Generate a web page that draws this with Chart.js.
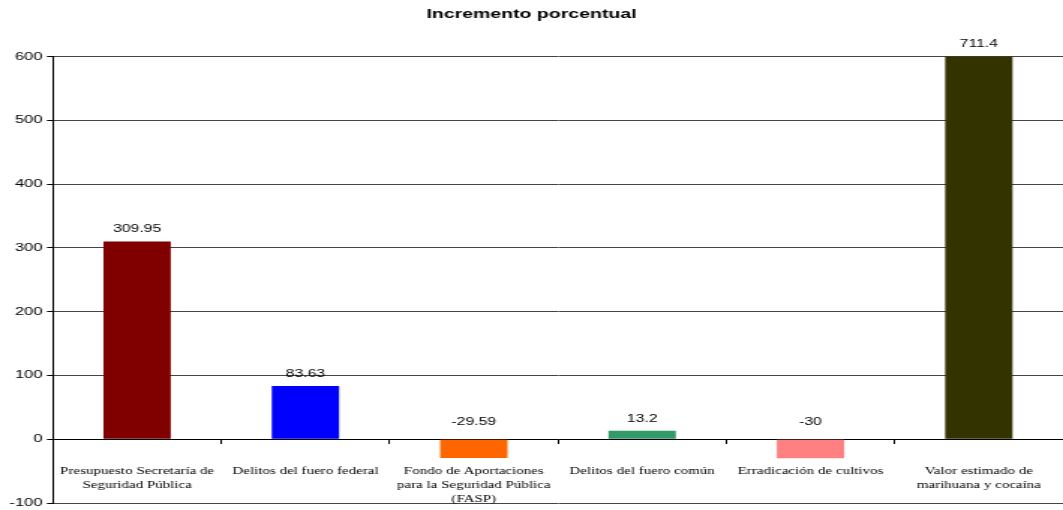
<!DOCTYPE html>
<html>
<head>
<meta charset="utf-8">
<script src="https://cdn.jsdelivr.net/npm/chart.js@4/dist/chart.umd.min.js"></script>
<style>
  html, body { margin: 0; padding: 0; background: #fff; overflow: hidden; }
  /* the chart is laid out narrow and widened horizontally */
  #wrap { width: 709px; height: 510px; transform: scaleX(1.4993); transform-origin: 0 0; }
</style>
</head>
<body>
<div id="wrap"><canvas id="bars"></canvas></div>
<script>
// categorias y valores del incremento porcentual
var categorias = [
    ["Presupuesto Secretaría de", "Seguridad Pública"],
    "Delitos del fuero federal",
    ["Fondo de Aportaciones", "para la Seguridad Pública", "(FASP)"],
    "Delitos del fuero común",
    "Erradicación de cultivos",
    ["Valor estimado de", "marihuana y cocaína"]
];
var incremento = [309.95, 83.63, -29.59, 13.2, -30, 711.4];
var colores = ["#800000", "#0000FF", "#FF6600", "#339966", "#FF8080", "#333300"];
var ejeY = { min: -100, max: 600, paso: 100 };

var sans = "'Liberation Sans', Arial, sans-serif";
var serif = "'Liberation Serif', 'Times New Roman', serif";

// escribe el valor encima de cada barra (o sobre el cero si es negativa)
var etiquetas = {
    id: "etiquetas",
    afterDatasetsDraw: function(chart) {
        var ctx = chart.ctx;
        var y = chart.scales.y;
        var meta = chart.getDatasetMeta(0);
        var cero = y.getPixelForValue(0);
        ctx.save();
        ctx.font = "10.5px " + sans;
        ctx.fillStyle = "#000";
        ctx.textAlign = "center";
        ctx.textBaseline = "middle";
        meta.data.forEach(function(bar, i) {
            var v = incremento[i];
            var py;
            if (v >= 0) {
                py = Math.max(bar.y, chart.chartArea.top) - 12;
            } else {
                py = cero - 17;
            }
            ctx.fillText(String(v), bar.x, py);
        });
        ctx.restore();
    }
};

var ctx = document.getElementById("bars").getContext("2d");
var grafica = new Chart(ctx, {
    type: "bar",
    data: {
        labels: categorias,
        datasets: [{
            data: incremento,
            backgroundColor: colores,
            borderWidth: 0,
            barPercentage: 0.4,
            categoryPercentage: 1.0
        }]
    },
    options: {
        responsive: true,
        maintainAspectRatio: false,
        animation: false,
        layout: { padding: { top: 0, right: 0, bottom: 7, left: 0 } },
        plugins: {
            legend: { display: false },
            tooltip: { enabled: false },
            title: {
                display: true,
                text: "Incremento porcentual",
                color: "#000",
                font: { family: sans, size: 13, weight: "bold" },
                padding: { top: 7, bottom: 34 }
            }
        },
        scales: {
            x: {
                position: { y: 0 },
                offset: true,
                afterFit: function(scale) {
                    scale.paddingLeft = 0;
                    scale.paddingRight = 0;
                },
                border: { display: true, color: "#000", width: 1 },
                grid: { drawOnChartArea: false, drawTicks: true, tickLength: 4, color: "#000" },
                ticks: {
                    autoSkip: false,
                    maxRotation: 0,
                    padding: 21,
                    color: "#000",
                    font: { family: serif, size: 10, lineHeight: 1.4 }
                }
            },
            y: {
                min: ejeY.min,
                max: ejeY.max,
                afterFit: function(scale) {
                    scale.width = 35.3;
                    scale.paddingTop = 0;
                    scale.paddingBottom = 0;
                },
                border: { display: true, color: "#000", width: 1 },
                grid: { color: "#444", drawTicks: true, tickLength: 4, tickColor: "#000" },
                ticks: {
                    stepSize: ejeY.paso,
                    padding: 3,
                    color: "#000",
                    font: { family: sans, size: 11 }
                }
            }
        }
    },
    plugins: [etiquetas]
});
</script>
</body>
</html>
